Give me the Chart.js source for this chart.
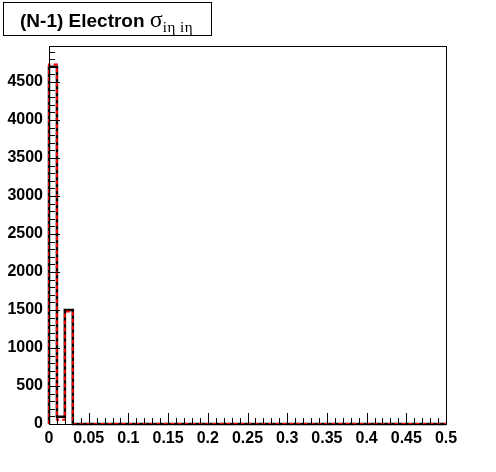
<!DOCTYPE html>
<html>
<head>
<meta charset="utf-8">
<script src="https://cdn.jsdelivr.net/npm/chart.js@4.4.1/dist/chart.umd.min.js"></script>
<style>
  body { margin: 0; background: #fff; }
  #wrap { position: relative; width: 496px; height: 472px; }
  #title {
    position: absolute; left: 3px; top: 2px; width: 207px; height: 32px;
    border: 1px solid #000; background: #fff;
    font-family: 'Liberation Sans', Arial, sans-serif; font-weight: bold; font-size: 19px;
    line-height: 32px; white-space: nowrap; box-sizing: content-box;
  }
  #title .in { position: absolute; left: 16px; top: 0; }
  #title .sig { font-family: 'Liberation Serif', serif; font-weight: normal; font-size: 24px; }
  #title sub { font-family: 'Liberation Serif', serif; font-weight: normal; font-size: 15px; vertical-align: -5px; line-height: 0; letter-spacing: 0.5px; }
</style>
</head>
<body>
<div id="wrap">
  <canvas id="c" width="496" height="472"></canvas>
  <div id="title"><span class="in">(N-1) Electron <span class="sig">σ</span><sub>iη iη</sub></span></div>
</div>
<script>
// --- histogram data: 50 bins of 0.01 from 0 to 0.5 ---
const binWidth = 0.01;
const blackCounts = [4700, 95, 1500, 0, 0, 0, 0, 0, 0, 0,
                     0, 0, 0, 0, 0, 0, 0, 0, 0, 0,
                     0, 0, 0, 0, 0, 0, 0, 0, 0, 0,
                     0, 0, 0, 0, 0, 0, 0, 0, 0, 0,
                     0, 0, 0, 0, 0, 0, 0, 0, 0, 0];
const redCounts = [4730, 55, 1480, 0, 0, 0, 0, 0, 0, 0,
                   0, 0, 0, 0, 0, 0, 0, 0, 0, 0,
                   0, 0, 0, 0, 0, 0, 0, 0, 0, 0,
                   0, 0, 0, 0, 0, 0, 0, 0, 0, 0,
                   0, 0, 0, 0, 0, 0, 0, 0, 0, 0];
const xTicks = [0, 0.05, 0.1, 0.15, 0.2, 0.25, 0.3, 0.35, 0.4, 0.45, 0.5];
const yTicks = [0, 500, 1000, 1500, 2000, 2500, 3000, 3500, 4000, 4500];
const xMin = 0, xMax = 0.5, yMin = 0, yMax = 4974;

// turn bin contents into a stepped outline
function outline(counts) {
    const pts = [{ x: 0, y: 0 }];
    counts.forEach((c, i) => pts.push({ x: i * binWidth, y: c }));
    pts.push({ x: counts.length * binWidth, y: 0 });
    return pts;
}

// ROOT-like frame with inward ticks
const frameTicks = {
    id: 'frameTicks',
    afterDatasetsDraw(chart) {
        const { ctx, chartArea: a, scales: { x, y } } = chart;
        ctx.save();
        ctx.strokeStyle = '#000';
        ctx.lineWidth = 1;
        ctx.beginPath();
        // y minor every 100, major every 500
        for (let v = 0; v <= yMax; v += 100) {
            const py = Math.round(y.getPixelForValue(v)) + 0.5;
            const len = (v % 500 === 0) ? 11 : 6;
            ctx.moveTo(a.left, py); ctx.lineTo(a.left + len, py);
        }
        // x minor every 0.01, major every 0.05
        for (let i = 0; i <= 50; i++) {
            const px = Math.round(x.getPixelForValue(i * 0.01)) + 0.5;
            const len = (i % 5 === 0) ? 11 : 6;
            ctx.moveTo(px, a.bottom); ctx.lineTo(px, a.bottom - len);
        }
        ctx.stroke();
        ctx.strokeRect(a.left + 0.5, a.top + 0.5, a.right - a.left, a.bottom - a.top);
        ctx.restore();
    }
};

const labelFont = { family: "'Liberation Sans', Arial, sans-serif", size: 16, weight: 'bold' };

new Chart(document.getElementById('c'), {
    type: 'line',
    data: {
        datasets: [
            // dataset 0 is painted last, so the red dashes sit on top of the black line
            { data: outline(redCounts), borderColor: '#ff0000', borderWidth: 2, borderDash: [4, 3], stepped: 'before',
              pointRadius: 0, fill: false, clip: false },
            { data: outline(blackCounts), borderColor: '#000', borderWidth: 2.5, stepped: 'before',
              pointRadius: 0, fill: false, clip: false }
        ]
    },
    plugins: [frameTicks],
    options: {
        responsive: false,
        animation: false,
        layout: { padding: { top: 46, right: 50, left: 0, bottom: 0 } },
        plugins: { legend: { display: false }, tooltip: { enabled: false } },
        scales: {
            x: {
                type: 'linear', min: xMin, max: xMax,
                grid: { display: false, drawTicks: false }, border: { display: false },
                afterBuildTicks: s => { s.ticks = xTicks.map(v => ({ value: v })); },
                afterFit: s => { s.height = 48; },
                ticks: { color: '#000', font: labelFont, padding: 5, maxRotation: 0, autoSkip: false,
                         callback: v => String(v) }
            },
            y: {
                type: 'linear', min: yMin, max: yMax,
                grid: { display: false, drawTicks: false }, border: { display: false },
                afterBuildTicks: s => { s.ticks = yTicks.map(v => ({ value: v })); },
                afterFit: s => { s.width = 49; },
                ticks: { color: '#000', font: labelFont, padding: 6, autoSkip: false,
                         callback: v => String(v) }
            }
        }
    }
});
</script>
</body>
</html>
